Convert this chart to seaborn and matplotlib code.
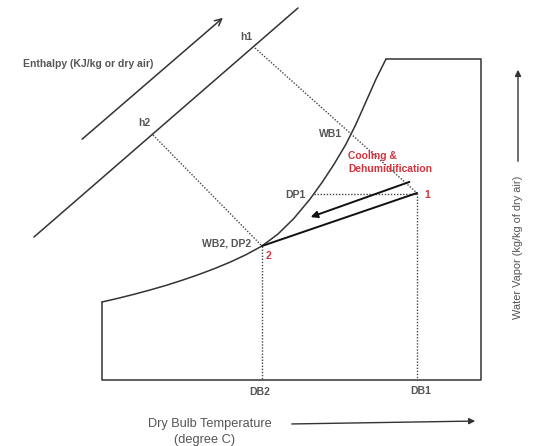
import numpy as np
import pandas as pd
import matplotlib
matplotlib.use("Agg")
import matplotlib.pyplot as plt
import seaborn as sns

# --- Data (positions on the chart) ---
# saturation curve, from the low left corner up to the flat top
sat_x = [102, 118, 134, 150, 166, 182, 198, 214, 230, 246, 262,
         278, 294, 310, 322, 334, 346, 356, 366, 376, 386]
sat_y = [302, 298.3, 294.3, 290, 285.4, 280.3, 274.8, 268.8, 262.2, 254.7, 246,
         234, 218.3, 199.1, 182.5, 164.3, 144.1, 124.1, 101.6, 79.1, 59]

# chart frame: top edge, right edge, bottom edge, left edge
frame_x = [386, 481, 481, 102, 102]
frame_y = [59, 59, 380, 380, 302]

# process states
state_names = ["1", "2"]
state_x = [417, 262]
state_y = [193, 246]

# enthalpy scale line and enthalpy arrow
enth_line_x = [34, 298]
enth_line_y = [237, 8]
enth_arrow_x = [80, 225]
enth_arrow_y = [141, 16]

# enthalpy / wet bulb construction (dotted)
h1_x = [255, 417]
h1_y = [48, 193]
h2_x = [153, 262]
h2_y = [135, 246]
dp1_x = [314, 417]
dp1_y = [194, 194]

# cooling path arrow
cool_x = [412, 308]
cool_y = [181, 218]

DARK = "#333333"
GREY = "#555555"
RED = "#d5323c"
FONT = "Liberation Sans"


def line(ax, xs, ys, **kw):
    df = pd.DataFrame({"x": xs, "y": ys})
    sns.lineplot(data=df, x="x", y="y", sort=False, estimator=None, ax=ax, **kw)


sns.set_style("white")
plt.rcParams["font.family"] = [FONT, "DejaVu Sans"]

fig = plt.figure(figsize=(5.37, 4.46), dpi=100)
ax = fig.add_axes([0, 0, 1, 1])

# saturation curve and frame
line(ax, sat_x, sat_y, color=DARK, linewidth=1.1)
line(ax, frame_x, frame_y, color=DARK, linewidth=1.1)

# enthalpy scale line
line(ax, enth_line_x, enth_line_y, color=DARK, linewidth=1.1)
ax.annotate("", xy=(enth_arrow_x[1], enth_arrow_y[1]), xytext=(enth_arrow_x[0], enth_arrow_y[0]),
            arrowprops=dict(arrowstyle="->", color=DARK, lw=1.1, mutation_scale=12))

# dotted construction lines
dot = dict(color="#444444", linewidth=1.0, linestyle=(0, (1, 1.2)))
line(ax, h1_x, h1_y, **dot)
line(ax, h2_x, h2_y, **dot)
line(ax, dp1_x, dp1_y, **dot)
for sx, sy in zip(state_x, state_y):
    line(ax, [sx, sx], [sy, frame_y[2]], **dot)

# process line 2 -> 1
line(ax, state_x, state_y, color="#111111", linewidth=1.4)
ax.annotate("", xy=(cool_x[1], cool_y[1]), xytext=(cool_x[0], cool_y[0]),
            arrowprops=dict(arrowstyle="-|>", color="#111111", lw=1.4, mutation_scale=10))

# labels
bold = dict(fontsize=7.5, fontweight="bold", color=GREY)
ax.text(23, 64, "Enthalpy (KJ/kg or dry air)", ha="left", va="center", **bold)
ax.text(246, 37, "h1", ha="center", va="center", **bold)
ax.text(144, 123, "h2", ha="center", va="center", **bold)
ax.text(331, 134, "WB1", ha="center", va="center", **bold)
ax.text(295, 195, "DP1", ha="center", va="center", **bold)
ax.text(227, 243, "WB2, DP2", ha="center", va="center", **bold)
ax.text(260, 392, "DB2", ha="center", va="center", **bold)
ax.text(421, 391, "DB1", ha="center", va="center", **bold)

ax.text(348, 156, "Cooling &", ha="left", va="center", fontsize=7.4, fontweight="bold", color=RED)
ax.text(348, 169, "Dehumidification", ha="left", va="center", fontsize=7.4, fontweight="bold", color=RED)
ax.text(state_x[0] + 10, state_y[0] + 2, state_names[0], ha="center", va="center",
        fontsize=7.5, fontweight="bold", color=RED)
ax.text(state_x[1] + 6, state_y[1] + 10, state_names[1], ha="center", va="center",
        fontsize=7.5, fontweight="bold", color=RED)

# axis captions
ax.text(210, 424, "Dry Bulb Temperature", ha="center", va="center", fontsize=9.2, color=GREY)
ax.text(205, 440, "(degree C)", ha="center", va="center", fontsize=9.2, color=GREY)
ax.annotate("", xy=(478, 421), xytext=(289, 424),
            arrowprops=dict(arrowstyle="-|>", color=DARK, lw=1.0, mutation_scale=9))
ax.text(518, 247, "Water Vapor (kg/kg of dry air)", ha="center", va="center",
        rotation=90, fontsize=7.9, color=GREY)
ax.annotate("", xy=(518, 67), xytext=(518, 164),
            arrowprops=dict(arrowstyle="-|>", color=DARK, lw=1.0, mutation_scale=9))

ax.set_xlim(0, 537)
ax.set_ylim(446, 0)
ax.set_axis_off()

fig.savefig("out.png", dpi=100)
plt.close(fig)
